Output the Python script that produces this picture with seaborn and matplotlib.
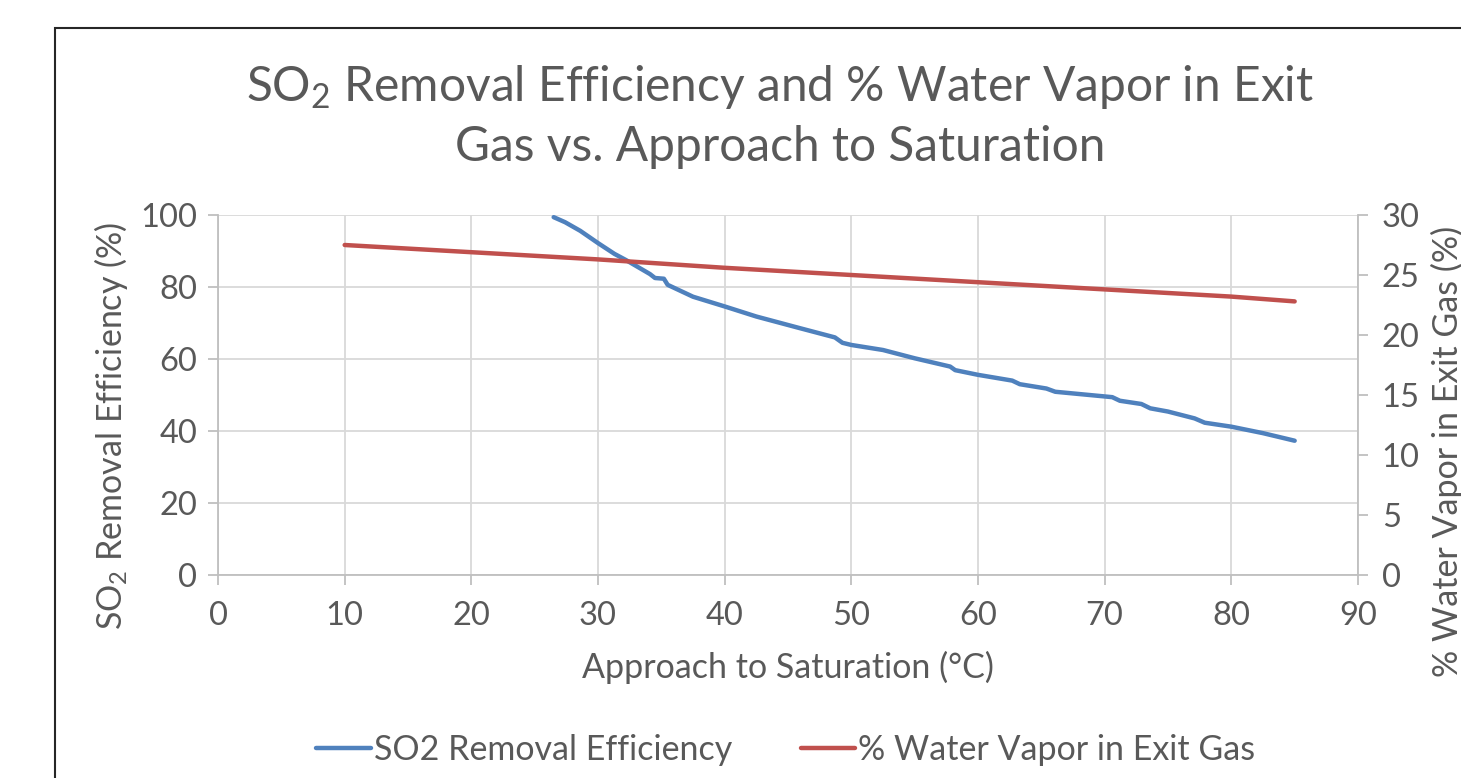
import numpy as np
import pandas as pd
import seaborn as sns
import matplotlib.pyplot as plt
from matplotlib.patches import Rectangle

# data
so2_x = [26.5, 27.4, 28.6, 30.0, 31.3, 32.2, 34.1, 34.5, 35.2, 35.5, 37.5, 40.0, 42.5,
         45.9, 48.7, 49.3, 50.0, 52.5, 55.0, 57.8, 58.2, 60.0, 62.7, 63.3, 65.4, 66.1,
         70.6, 71.2, 72.9, 73.6, 75.0, 77.1, 77.9, 80.0, 82.5, 85.0]
so2_eff = [99.4, 98.0, 95.6, 92.2, 89.2, 87.5, 83.6, 82.5, 82.3, 80.6, 77.3, 74.6, 71.8,
           68.6, 66.0, 64.5, 63.9, 62.5, 60.2, 57.9, 56.9, 55.6, 54.0, 53.0, 51.8, 50.9,
           49.4, 48.4, 47.5, 46.3, 45.4, 43.5, 42.3, 41.2, 39.4, 37.3]

water_x = [10, 20, 30, 40, 50, 60, 70, 80, 85]
water_pct = [27.5, 26.9, 26.3, 25.6, 25.0, 24.4, 23.8, 23.2, 22.8]

x_ticks = list(range(0, 100, 10))
left_ticks = list(range(0, 120, 20))
right_ticks = list(range(0, 35, 5))

df_so2 = pd.DataFrame({'x': so2_x, 'y': so2_eff})
df_w = pd.DataFrame({'x': water_x, 'y': water_pct})

sns.set_style('white')
plt.rcParams['font.family'] = ['Lato', 'DejaVu Sans']
plt.rcParams['mathtext.fontset'] = 'custom'
plt.rcParams['mathtext.rm'] = 'Lato'
plt.rcParams['mathtext.it'] = 'Lato'

txt = '#595959'
grid_c = '#d9d9d9'
blue = '#4f81bd'
red = '#c0504d'
fs = 23.5
lfs = 24.5

fig = plt.figure(figsize=(14.61, 7.78), dpi=100)
fig.patches.append(Rectangle((55 / 1461, -0.2), 1.2, 1.2 - 28 / 778,
                             transform=fig.transFigure, fill=False, edgecolor='#262626', lw=1.5))

ax = fig.add_axes([218 / 1461, 1 - 575 / 778, (1358 - 218) / 1461, (575 - 215) / 778])
ax2 = ax.twinx()

sns.lineplot(data=df_so2, x='x', y='y', ax=ax, color=blue, lw=3.2,
             label='SO2 Removal Efficiency', legend=False)
sns.lineplot(data=df_w, x='x', y='y', ax=ax2, color=red, lw=3.2,
             label='% Water Vapor in Exit Gas', legend=False)

ax.set_xlim(0, 90)
ax.set_ylim(0, 100)
ax2.set_ylim(0, 30)
ax.set_xticks(x_ticks)
ax.set_yticks(left_ticks)
ax2.set_yticks(right_ticks)

ax.grid(True, color=grid_c, lw=1.3)
ax.set_axisbelow(True)
for a in (ax, ax2):
    for s in a.spines.values():
        s.set_visible(False)
ax.spines['left'].set_visible(True)
ax.spines['bottom'].set_visible(True)
ax2.spines['right'].set_visible(True)
for s in (ax.spines['left'], ax.spines['bottom'], ax2.spines['right']):
    s.set_color('#bfbfbf')
    s.set_linewidth(1.3)

ax.tick_params(axis='both', labelsize=fs, colors=txt, length=7, width=1.3, color='#bfbfbf',
               left=True, bottom=True, pad=8)
ax.tick_params(axis='x', pad=12)
ax2.tick_params(axis='y', labelsize=fs, colors=txt, length=7, width=1.3, color='#bfbfbf',
                right=True, pad=10)

ax.set_xlabel('Approach to Saturation (°C)', fontsize=lfs, color=txt, labelpad=14)
ax.set_ylabel('SO$_2$ Removal Efficiency (%)', fontsize=lfs, color=txt, labelpad=7)
ax2.set_ylabel('% Water Vapor in Exit Gas (%)', fontsize=lfs, color=txt, labelpad=8)
ax.yaxis.label.set_y(0.414)
ax2.yaxis.label.set_y(0.344)

fig.text(780 / 1461, 1 - 116 / 778,
         'SO$_2$ Removal Efficiency and % Water Vapor in Exit\nGas vs. Approach to Saturation',
         ha='center', va='center', fontsize=34.5, color=txt, linespacing=1.4)

h1, l1 = ax.get_legend_handles_labels()
h2, l2 = ax2.get_legend_handles_labels()
fig.legend(h1 + h2, l1 + l2, loc='center', bbox_to_anchor=(786 / 1461, 1 - 750 / 778),
           ncol=2, frameon=False, fontsize=lfs, labelcolor=txt, handlelength=1.6,
           handletextpad=0.1, columnspacing=2.0)

fig.savefig('out.png', dpi=100)
